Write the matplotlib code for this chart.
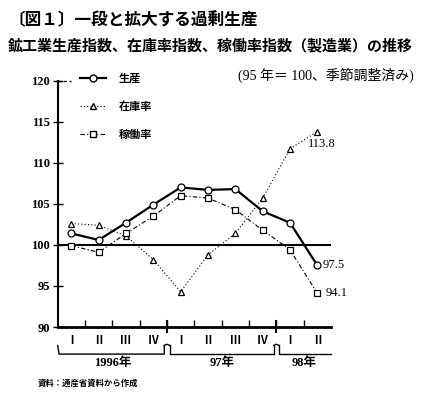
import matplotlib
matplotlib.use('Agg')
import matplotlib.pyplot as plt
from matplotlib.lines import Line2D

plt.rcParams['font.family'] = ['Noto Sans CJK JP', 'DejaVu Sans']

quarters = ['Ⅰ', 'Ⅱ', 'Ⅲ', 'Ⅳ', 'Ⅰ', 'Ⅱ', 'Ⅲ', 'Ⅳ', 'Ⅰ', 'Ⅱ']
years = ['1996年', '97年', '98年']
year_quarters = [4, 4, 2]
production = [101.4, 100.6, 102.7, 104.9, 107.0, 106.7, 106.8, 104.1, 102.7, 97.5]
inventory = [102.6, 102.4, 101.1, 98.2, 94.3, 98.8, 101.4, 105.7, 111.7, 113.8]
utilization = [99.9, 99.1, 101.4, 103.5, 106.0, 105.7, 104.3, 101.8, 99.4, 94.1]

fig = plt.figure(figsize=(4.23, 3.97), dpi=100)
ax = fig.add_axes([0.1364, 0.1763, 0.6461, 0.6204])

x = list(range(len(quarters)))
ax.plot(x, production, color='black', lw=1.6, marker='o', ms=5,
        mfc='white', mec='black', mew=0.9, zorder=4)
ax.plot(x, inventory, color='black', lw=0.8, ls=(0, (1, 2)), marker='^', ms=5,
        mfc='white', mec='black', mew=0.9, zorder=3)
ax.plot(x, utilization, color='black', lw=0.8, ls=(0, (4, 2, 1, 2)), marker='s', ms=5,
        mfc='white', mec='black', mew=0.9, zorder=3)
ax.axhline(100, color='black', lw=1.5, zorder=2)

ax.set_xlim(-0.5, len(quarters) - 0.5)
ax.set_ylim(90, 120)
ax.set_yticks([90, 95, 100, 105, 110, 115, 120])
ax.set_yticklabels(['90', '95', '100', '105', '110', '115', '120'],
                   family='Liberation Serif', fontsize=9, fontweight='bold')
ax.tick_params(axis='y', direction='inout', length=7, width=1, pad=2)
ax.set_xticks([i + 0.5 for i in x[:-1]])
ax.set_xticklabels([])
ax.tick_params(axis='x', direction='in', length=5, width=1)
for s in ['top', 'right']:
    ax.spines[s].set_visible(False)
ax.spines['left'].set_linewidth(1.5)
ax.spines['bottom'].set_linewidth(2)

# short dotted bit at the top
ax.plot([-0.5, 0.0], [120, 120], color='black', lw=1, ls=(0, (2, 2)), clip_on=False)

# end labels
ax.text(x[-1] - 0.35, inventory[-1] - 0.8, '113.8', fontsize=9, family='Liberation Serif',
        ha='left', va='top')
ax.text(x[-1] + 0.2, production[-1] + 0.1, '97.5', fontsize=9, family='Liberation Serif',
        ha='left', va='center')
ax.text(x[-1] + 0.3, utilization[-1], '94.1', fontsize=9, family='Liberation Serif',
        ha='left', va='center')

# legend
handles = [
    Line2D([], [], color='black', lw=1.6, marker='o', ms=5, mfc='white', mec='black'),
    Line2D([], [], color='black', lw=0.8, ls=(0, (1, 2)), marker='^', ms=5, mfc='white', mec='black'),
    Line2D([], [], color='black', lw=0.8, ls=(0, (4, 2, 1, 2)), marker='s', ms=5, mfc='white', mec='black'),
]
ax.legend(handles, ['生産', '在庫率', '稼働率'], loc='upper left', bbox_to_anchor=(0.045, 1.075),
          frameon=False, labelspacing=1.35, handlelength=2.3, handletextpad=1.2,
          prop={'family': 'Noto Sans CJK JP', 'weight': 'bold', 'size': 8})

# quarter and year labels under the axis
tr = ax.get_xaxis_transform()
for i, q in enumerate(quarters):
    ax.text(i, -0.056, q, transform=tr, ha='center', va='center', fontsize=8, fontweight='bold')

start = -0.5
for k, (yr, n) in enumerate(zip(years, year_quarters)):
    end = start + n
    ax.text((start + end) / 2, -0.146, yr, transform=tr, ha='center', va='center',
            fontsize=9, family=['Liberation Serif', 'Noto Sans CJK JP'], fontweight='bold')
    left = start + 0.1 if k > 0 else start + 0.05
    right = end - 0.1 if k < len(years) - 1 else end
    ax.plot([left - 0.05 if k == 0 else left, left, right, right],
            [-0.075, -0.11, -0.11, -0.11 if k == len(years) - 1 else -0.075],
            transform=tr, color='black', lw=1, clip_on=False)
    if k < len(years) - 1:
        # long separator tick between years
        ax.plot([end, end], [-0.02, 0.025], transform=tr, color='black', lw=1.5, clip_on=False)
        ax.plot([end - 0.1, end, end + 0.1], [-0.075, -0.07, -0.075], transform=tr,
                color='black', lw=1, clip_on=False)
    start = end

fig.text(0.019, 0.948, '〔図１〕一段と拡大する過剰生産', fontsize=12, fontweight='bold',
         ha='left', va='center')
fig.text(0.019, 0.886, '鉱工業生産指数、在庫率指数、稼働率指数（製造業）の推移', fontsize=10.8,
         fontweight='bold', ha='left', va='center')
fig.text(0.978, 0.81, '(95 年＝ 100、季節調整済み)', fontsize=10,
         family=['Liberation Serif', 'Noto Sans CJK JP'], ha='right', va='center')
fig.text(0.09, 0.035, '資料：通産省資料から作成', fontsize=6, fontweight='bold',
         ha='left', va='center')

fig.savefig('out.png', dpi=100)
